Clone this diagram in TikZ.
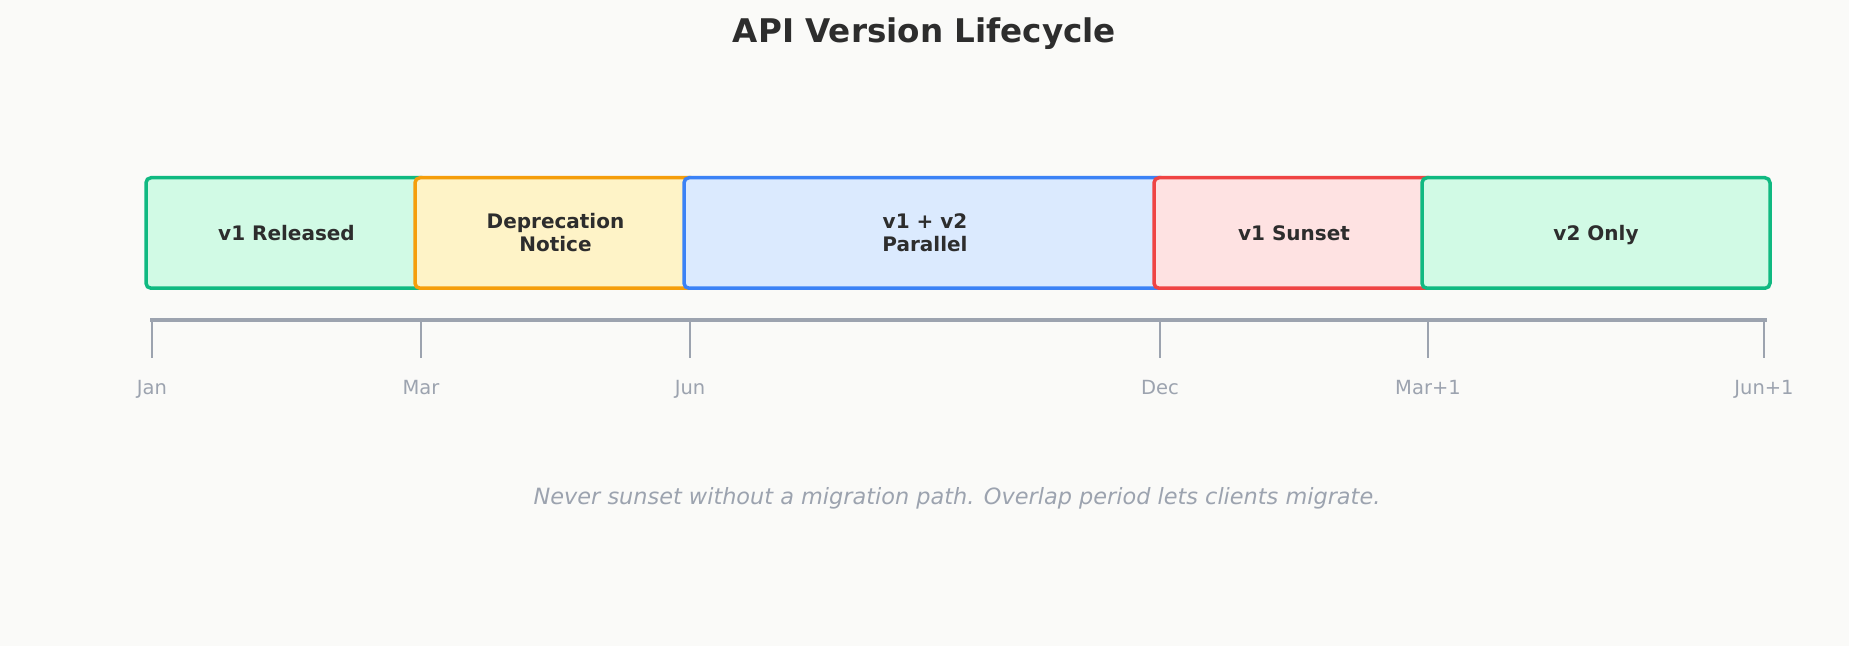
\documentclass[tikz,border=0pt]{standalone}
\usepackage{fontspec}
\setmainfont{DejaVu Sans}
\usetikzlibrary{positioning}

\definecolor{bg}{HTML}{FAFAF8}
\definecolor{ink}{HTML}{2D2D2D}
\definecolor{axis}{HTML}{9CA3AF}
\definecolor{grn}{HTML}{10B981}
\definecolor{grnl}{HTML}{D1FAE5}
\definecolor{org}{HTML}{F59E0B}
\definecolor{orgl}{HTML}{FEF3C7}
\definecolor{blu}{HTML}{3B82F6}
\definecolor{blul}{HTML}{DBEAFE}
\definecolor{rd}{HTML}{EF4444}
\definecolor{rdl}{HTML}{FEE2E2}

\begin{document}
\begin{tikzpicture}[x=0.5pt,y=-0.5pt,
   phase/.style={draw, line width=1.75pt, rounded corners=2.5pt, minimum height=55.25pt,
                 inner sep=0pt, align=center, text=ink, font=\fontsize{10}{11.5}\selectfont\bfseries},
   tick/.style={draw=axis, line width=1pt},
   month/.style={anchor=base, text=axis, font=\fontsize{9.75}{11}\selectfont}]

   \useasboundingbox[fill=bg] (0,0) rectangle (1849,646);

   % Title
      \node[anchor=base, text=ink, font=\fontsize{16.3}{19}\selectfont\bfseries] (title) at (924.5,43) {API Version Lifecycle};

   % Phases
      \node[phase, draw=grn, fill=grnl, minimum width=140.5pt] (rel)  at (286.5,233) {v1 Released};
      \node[phase, draw=org, fill=orgl, minimum width=140.5pt] (dep)  at (555.5,233) {Deprecation\\Notice};
      \node[phase, draw=blu, fill=blul, minimum width=241pt]   (par)  at (925,233)   {v1 + v2\\Parallel};
      \node[phase, draw=rd,  fill=rdl,  minimum width=140pt]   (sun)  at (1294,233)  {v1 Sunset};
      \node[phase, draw=grn, fill=grnl, minimum width=174pt, text depth=0pt] (only) at (1596,233) {v2 Only};

   % Timeline
      \coordinate (jan)  at (152,320.5);
      \coordinate (mar)  at (421,320.5);
      \coordinate (jun)  at (690,320.5);
      \coordinate (dec)  at (1160,320.5);
      \coordinate (mar1) at (1428,320.5);
      \coordinate (jun1) at (1764,320.5);
      \draw[axis, line width=2pt] ([xshift=-1pt]jan) -- ([xshift=1.5pt]jun1);
      \draw[tick] (jan)  -- ++(0,37.5);
      \draw[tick] (mar)  -- ++(0,37.5);
      \draw[tick] (jun)  -- ++(0,37.5);
      \draw[tick] (dec)  -- ++(0,37.5);
      \draw[tick] (mar1) -- ++(0,37.5);
      \draw[tick] (jun1) -- ++(0,37.5);

   % Months
      \node[month] (ljan)  at (152,395)  {Jan};
      \node[month] (lmar)  at (421,395)  {Mar};
      \node[month] (ljun)  at (690,395)  {Jun};
      \node[month] (ldec)  at (1160,395) {Dec};
      \node[month] (lmar1) at (1428,395) {Mar+1};
      \node[month] (ljun1) at (1764,395) {Jun+1};

   % Note
      \node[anchor=base, text=axis, font=\fontsize{11.2}{13}\selectfont\itshape] (note) at (957,505)
           {Never sunset without a migration path. Overlap period lets clients migrate.};
\end{tikzpicture}
\end{document}
